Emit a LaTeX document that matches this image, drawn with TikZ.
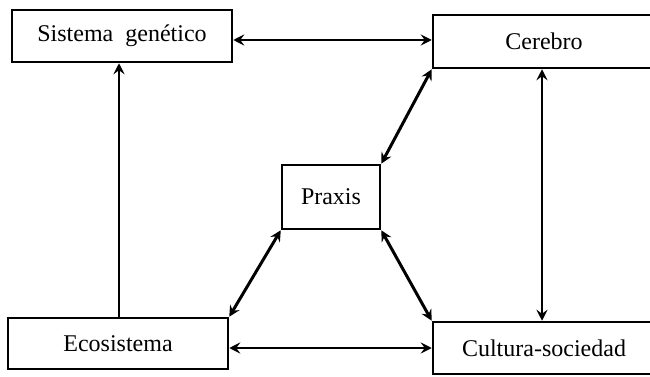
\documentclass[tikz,border=0pt]{standalone}
\usepackage{fontspec}
\setmainfont{Liberation Serif}
\usetikzlibrary{arrows.meta,calc}
\begin{document}
\begin{tikzpicture}[x=1pt,y=-1pt,
  box/.style={draw,line width=2.5pt,rectangle,inner sep=0pt,font=\fontsize{24}{28}\selectfont},
  tip/.style={Stealth[length=11pt,width=11pt,inset=4pt]},
  conn/.style={line width=2pt,{Stealth[length=11pt,width=11pt,inset=4pt]}-{Stealth[length=11pt,width=11pt,inset=4pt]}},
  diag/.style={conn,line width=3pt},
  single/.style={line width=2pt,-{Stealth[length=11pt,width=11pt,inset=4pt]}}]
\useasboundingbox (0,0) rectangle (650,377);
\clip (0,0) rectangle (650,377);
\node[box,minimum width=220pt,minimum height=52pt] (sis) at (122,36) {Sistema\ \ genético};
\node[box,minimum width=222pt,minimum height=53pt] (cer) at (544,41.5) {Cerebro};
\node[box,minimum width=98pt,minimum height=64pt] (pra) at (331,197) {Praxis};
\node[box,minimum width=220pt,minimum height=51pt] (eco) at (118,343.5) {Ecosistema};
\node[box,minimum width=222pt,minimum height=52pt] (cul) at (544,348) {Cultura-sociedad};
\draw[conn] (sis.east |- 0,40) -- (cer.west |- 0,40);
\draw[conn] (eco.east |- 0,348) -- (cul.west |- 0,348);
\draw[single] (eco.north -| 119,0) -- (sis.south -| 119,0);
\draw[conn] (cer.south -| 542,0) -- (cul.north -| 542,0);
\draw[diag] (pra.north east) -- (cer.south west);
\draw[diag] (pra.south west) -- (eco.north east);
\draw[diag] (pra.south east) -- (cul.north west);
\end{tikzpicture}
\end{document}
